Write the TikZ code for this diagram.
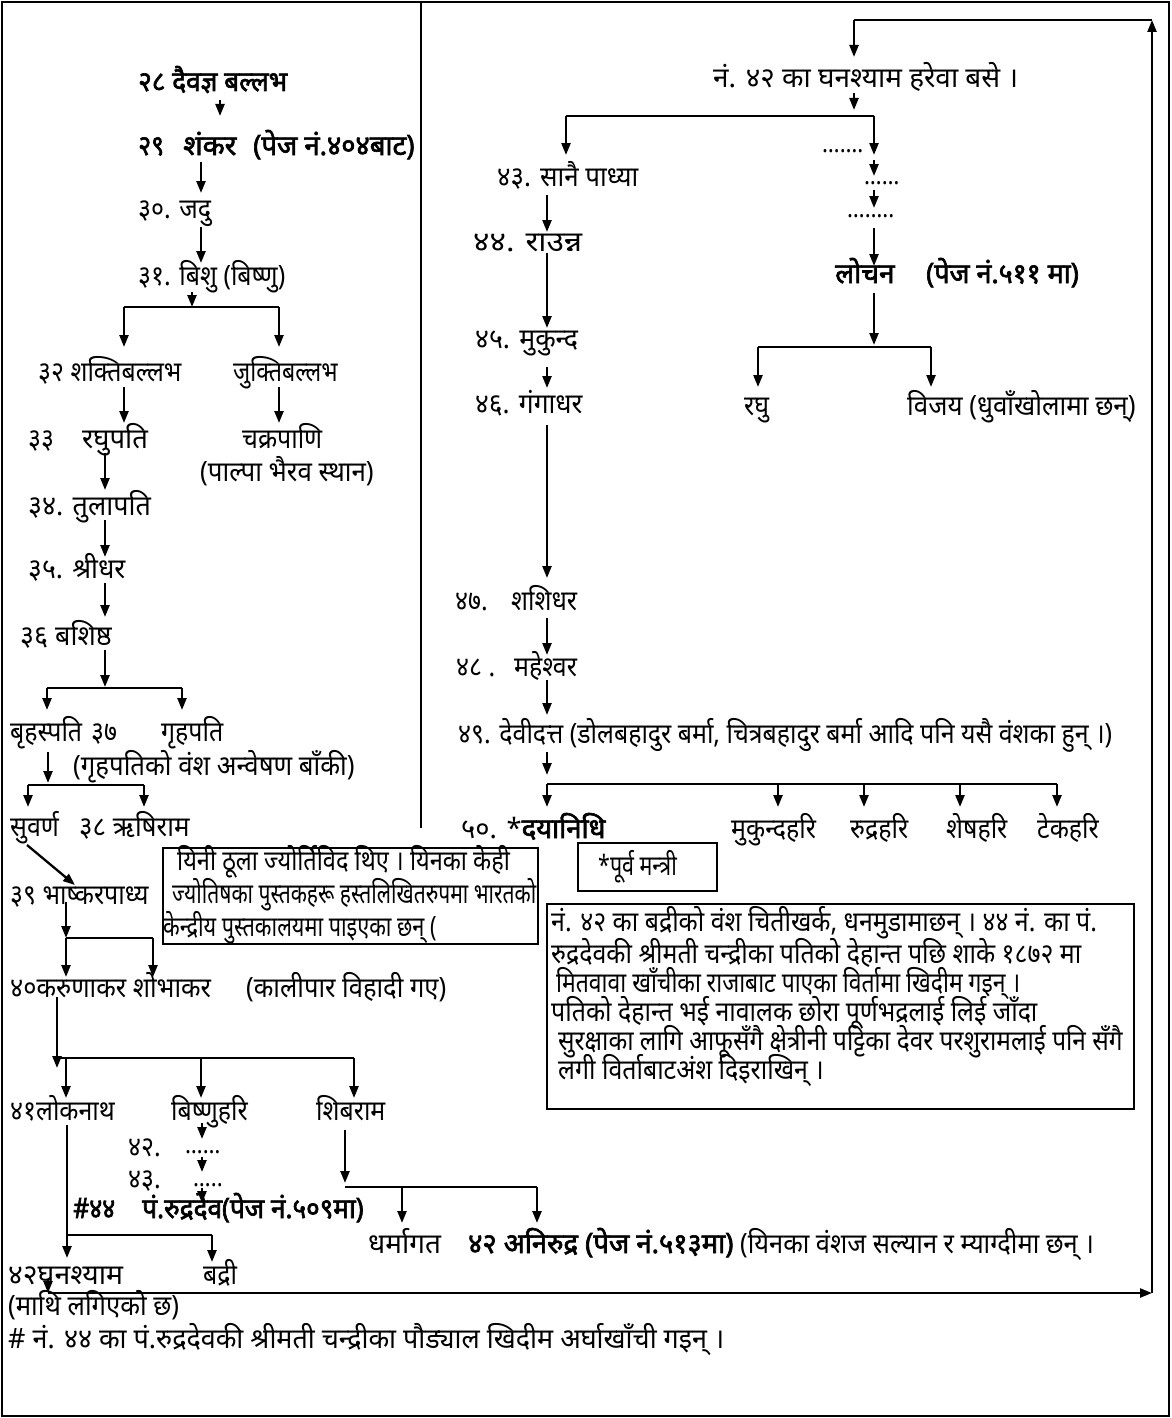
\documentclass[tikz,border=0pt]{standalone}
\usepackage{fontspec}
\setmainfont{Noto Sans}[Script=Devanagari, FakeStretch=0.89, BoldFont={Noto Sans}, BoldFeatures={FakeBold=2.2, FakeStretch=0.89}]
\usetikzlibrary{arrows.meta}
\newcommand\hsq[2]{\scalebox{#1}[1]{#2}}
\tikzset{
  txt/.style={anchor=base west, inner sep=0pt, font=\fontsize{28}{32}\selectfont},
  btxt/.style={anchor=base west, inner sep=0pt, font=\fontsize{28}{32}\selectfont\bfseries},
  dotted text/.style={anchor=base west, inner sep=0pt, font=\fontsize{25}{27}\selectfont},
  arr/.style={line width=2.3pt, -{Triangle[length=12pt,width=9pt]}},
  bar/.style={line width=2.3pt},
  frame/.style={draw, line width=1.6pt},
  boxnode/.style={draw, line width=1.6pt, anchor=north west, inner sep=0pt},
}
\begin{document}
\begin{tikzpicture}[x=1pt,y=-1pt]
\useasboundingbox (0,0) rectangle (1171,1418);
\draw[frame] (2,2) rectangle (1169,1416);
\coordinate (vtop) at (421,2); \coordinate (vbot) at (421,828);
\draw[line width=1.6pt] (vtop) -- (vbot);

% ---------- left column texts
\node[btxt] (t28) at (138,91) {\hsq{1.05}{२८ दैवज्ञ बल्लभ}};
\node[btxt] (t29a) at (138,155) {२९};
\node[btxt] (t29b) at (183,155) {\hsq{1.15}{शंकर}};
\node[btxt] (t29c) at (253,155) {\hsq{1.1}{(पेज नं.४०४बाट)}};
\node[txt] (t30) at (138,218) {३०. जदु};
\node[txt] (t31) at (138,285) {३१. बिशु (बिष्णु)};
\node[txt] (t32) at (38,381) {३२ शक्तिबल्लभ};
\node[txt] (t32b) at (233,381) {\hsq{0.93}{जुक्तिबल्लभ}};
\node[txt] (t33a) at (28,448) {३३};
\node[txt] (t33b) at (82,448) {\hsq{1.1}{रघुपति}};
\node[txt] (t33c) at (242,448) {चक्रपाणि};
\node[txt] (t33d) at (200,481) {\hsq{1.04}{(पाल्पा भैरव स्थान)}};
\node[txt] (t34) at (28,515) {\hsq{1.08}{३४. तुलापति}};
\node[txt] (t35) at (28,578) {\hsq{1.07}{३५. श्रीधर}};
\node[txt] (t36) at (20,645) {\hsq{1.08}{३६ बशिष्ठ}};
\node[txt] (t37a) at (10,741) {बृहस्पति};
\node[txt] (t37b) at (91,741) {३७};
\node[txt] (t37c) at (161,741) {गृहपति};
\node[txt] (t37d) at (73,775) {\hsq{1.035}{(गृहपतिको वंश अन्वेषण बाँकी)}};
\node[txt] (t38a) at (10,836) {सुवर्ण};
\node[txt] (t38b) at (79,836) {\hsq{1.04}{३८ ऋषिराम}};
\node[txt] (t39) at (10,904) {३९ भाष्करपाध्य};
\node[txt] (t40a) at (10,997) {\hsq{1.02}{४०करुणाकर शोभाकर}};
\node[txt] (t40b) at (246,997) {\hsq{1.025}{(कालीपार विहादी गए)}};
\node[txt] (t41a) at (10,1120) {४१लोकनाथ};
\node[txt] (t41b) at (171,1120) {बिष्णुहरि};
\node[txt] (t41c) at (316,1120) {शिबराम};
\node[txt] (t42n) at (128,1156) {४२.};
\node[dotted text] (d1) at (185,1153) {……};
\node[txt] (t43n) at (128,1188) {४३.};
\node[dotted text] (d2) at (193,1186) {…..};
\node[btxt] (t44a) at (73,1218) {\#४४};
\node[btxt] (t44b) at (142,1218) {\hsq{1.05}{पं.रुद्रदेव(पेज नं.५०९मा)}};
\node[txt] (tdh) at (368,1253) {\hsq{1.12}{धर्मागत}};
\node[btxt] (tan) at (468,1253) {\hsq{1.1}{४२ अनिरुद्र (पेज नं.५१३मा)}};
\node[txt] (tanb) at (740,1253) {\hsq{1.02}{(यिनका वंशज सल्यान र म्याग्दीमा छन् ।}};
\node[txt] (t42g) at (8,1284) {\hsq{1.14}{४२घनश्याम}};
\node[txt] (t42b) at (203,1284) {बद्री};
\node[txt] (tmathi) at (8,1315) {\hsq{1.03}{(माथि लगिएको छ)}};
\node[txt] (thash) at (8,1348) {\hsq{1.08}{\# नं. ४४ का पं.रुद्रदेवकी श्रीमती चन्द्रीका पौड्याल खिदीम अर्घाखाँची गइन् ।}};

% ---------- note boxes
\node[boxnode, minimum width=375pt, minimum height=96pt] (byini) at (162,847) {};
\node[txt] (y1) at (177,870) {\hsq{0.945}{यिनी ठूला ज्योर्तिविद थिए । यिनका केही}};
\node[txt] (y2) at (172,903) {\hsq{0.845}{ज्योतिषका पुस्तकहरू हस्तलिखितरुपमा भारतको}};
\node[txt] (y3) at (163,936) {\hsq{0.87}{केन्द्रीय पुस्तकालयमा पाइएका छन् (}};

\node[boxnode, minimum width=139pt, minimum height=48pt] (bpurva) at (577,842) {};
\node[txt] (purva) at (598,875) {\hsq{0.86}{*पूर्व मन्त्री}};

\node[boxnode, minimum width=587pt, minimum height=205pt] (bbadri) at (546,903) {};
\node[txt] (b1) at (551,931) {नं. ४२ का बद्रीको वंश चितीखर्क, धनमुडामाछन् । ४४ नं. का पं.};
\node[txt] (b2) at (551,963) {रुद्रदेवकी श्रीमती चन्द्रीका पतिको देहान्त पछि शाके १८७२ मा};
\node[txt] (b3) at (556,992) {\hsq{0.92}{मितवावा खाँचीका राजाबाट पाएका विर्तामा खिदीम गइन् ।}};
\node[txt] (b4) at (551,1021) {पतिको देहान्त भई नावालक छोरा पूर्णभद्रलाई लिई जाँदा};
\node[txt] (b5) at (558,1050) {\hsq{0.98}{सुरक्षाका लागि आफूसँगै क्षेत्रीनी पट्टिका देवर परशुरामलाई पनि सँगै}};
\node[txt] (b6) at (558,1079) {लगी विर्ताबाटअंश दिइराखिन् ।};

% ---------- right column texts
\node[txt] (r42) at (713,88) {\hsq{1.12}{नं. ४२ का घनश्याम हरेवा बसे ।}};
\node[txt] (r43) at (497,186) {\hsq{1.04}{४३. सानै पाध्या}};
\node[dotted text] (d3) at (822,152) {…….};
\node[dotted text] (d4) at (864,184) {……};
\node[dotted text] (d5) at (847,217) {……..};
\node[btxt] (rl1) at (835,283) {\hsq{1.12}{लोचन}};
\node[btxt] (rl2) at (926,283) {\hsq{1.08}{(पेज नं.५११ मा)}};
\node[txt] (r44) at (473,251) {\hsq{1.27}{४४. राउन्न}};
\node[txt] (r45) at (475,348) {\hsq{1.07}{४५. मुकुन्द}};
\node[txt] (r46) at (475,413) {\hsq{1.06}{४६. गंगाधर}};
\node[txt] (rraghu) at (744,415) {रघु};
\node[txt] (rvijay) at (907,415) {\hsq{1.04}{विजय (धुवाँखोलामा छन्)}};
\node[txt] (r47a) at (455,610) {४७.};
\node[txt] (r47b) at (511,610) {शशिधर};
\node[txt] (r48a) at (456,676) {४८ .};
\node[txt] (r48b) at (514,676) {महेश्वर};
\node[txt] (r49) at (458,743) {४९. देवीदत्त (डोलबहादुर बर्मा, चित्रबहादुर बर्मा आदि पनि यसै वंशका हुन् ।)};
\node[txt] (r50) at (461,838) {\hsq{1.1}{५०. *\textbf{दयानिधि}}};
\node[txt] (r50b) at (731,838) {मुकुन्दहरि};
\node[txt] (r50c) at (850,838) {रुद्रहरि};
\node[txt] (r50d) at (946,838) {शेषहरि};
\node[txt] (r50e) at (1037,838) {टेकहरि};

% ---------- connector coordinates
\foreach \n/\x/\y in {
 L1s/220/100, L1e/220/116, L2s/201/162, L2e/201/193, L3s/201/227, L3e/201/263,
 L4s/192/292, L4e/192/307, B1s/124/307, B1e/279/307,
 L5e/124/347, L6e/279/347, L7s/124/387, L7e/124/423, L8s/279/387, L8e/279/423,
 L9s/105/453, L9e/105/490, L10s/105/520, L10e/105/557, L11s/105/583, L11e/105/617,
 L12s/105/650, L12e/105/687, B2s/47/688, B2e/182/688, L13e/47/710, L14e/182/710,
 L15s/48/752, L15e/48/783, B3s/28/785, B3e/144/785, L16e/28/807, L17e/144/807,
 L18s/27/845, L18e/75/885, L19s/66/902, L19e/66/938, B4s/66/938, B4e/153/938,
 L20e/66/977, L21e/153/977, L22s/57/997, L22e/57/1068, B5s/57/1058, B5e/354/1058,
 J1/66/1058, J2/201/1058, L23e/66/1098, L24e/201/1098, L25e/354/1098,
 L26s/202/1123, L26e/202/1139, L27s/202/1157, L27e/202/1172, L28s/202/1188, L28e/202/1203,
 L29s/67/1125, L29e/67/1258, B6s/67/1235, B6e/212/1235, L30e/212/1262,
 L31s/48/1280, L31e/48/1293, L32e/1152/1293, L33e/1152/20, B8e/854/20, L34e/854/57,
 L35s/345/1130, L35e/345/1183, B9s/345/1187, B9e/537/1187, J3/402/1187,
 L36e/402/1223, L37e/537/1223,
 R1s/854/93, R1e/854/110, B10s/566/116, B10e/874/116, R2e/566/155, R3e/874/155,
 R4s/874/160, R4e/874/176, R5s/874/190, R5e/874/208, R6s/874/228, R6e/874/266,
 R7s/547/195, R7e/547/232, R8s/547/253, R8e/547/328, R9s/547/367, R9e/547/388,
 R10s/547/425, R10e/547/578, R11s/874/293, R11e/874/345, B11s/758/347, B11e/931/347,
 R12e/758/387, R13e/931/387, R14s/547/618, R14e/547/655, R15s/547/680, R15e/547/715,
 R16s/547/752, R16e/547/775, B12s/547/784, B12e/1057/784,
 K1/778/784, K2/864/784, K3/960/784,
 R17e/547/807, R18e/778/807, R19e/864/807, R20e/960/807, R21e/1057/807}
 {\coordinate (\n) at (\x,\y);}

% ---------- connectors, left column
\draw[arr] (L1s) -- (L1e);
\draw[arr] (L2s) -- (L2e);
\draw[arr] (L3s) -- (L3e);
\draw[arr] (L4s) -- (L4e);
\draw[bar] (B1s) -- (B1e);
\draw[arr] (B1s) -- (L5e);
\draw[arr] (B1e) -- (L6e);
\draw[arr] (L7s) -- (L7e);
\draw[arr] (L8s) -- (L8e);
\draw[arr] (L9s) -- (L9e);
\draw[arr] (L10s) -- (L10e);
\draw[arr] (L11s) -- (L11e);
\draw[arr] (L12s) -- (L12e);
\draw[bar] (B2s) -- (B2e);
\draw[arr] (B2s) -- (L13e);
\draw[arr] (B2e) -- (L14e);
\draw[arr] (L15s) -- (L15e);
\draw[bar] (B3s) -- (B3e);
\draw[arr] (B3s) -- (L16e);
\draw[arr] (B3e) -- (L17e);
\draw[arr] (L18s) -- (L18e);
\draw[arr] (L19s) -- (L19e);
\draw[bar] (B4s) -- (B4e);
\draw[arr] (B4s) -- (L20e);
\draw[arr] (B4e) -- (L21e);
\draw[arr] (L22s) -- (L22e);
\draw[bar] (B5s) -- (B5e);
\draw[arr] (J1) -- (L23e);
\draw[arr] (J2) -- (L24e);
\draw[arr] (B5e) -- (L25e);
\draw[arr] (L26s) -- (L26e);
\draw[arr] (L27s) -- (L27e);
\draw[arr] (L28s) -- (L28e);
\draw[arr] (L29s) -- (L29e);
\draw[bar] (B6s) -- (B6e);
\draw[arr] (B6e) -- (L30e);
\draw[arr] (L31s) -- (L31e);
\draw[arr] (L31e) -- (L32e);
\draw[arr] (L32e) -- (L33e);
\draw[bar] (L33e) -- (B8e);
\draw[arr] (B8e) -- (L34e);
\draw[arr] (L35s) -- (L35e);
\draw[bar] (B9s) -- (B9e);
\draw[arr] (J3) -- (L36e);
\draw[arr] (B9e) -- (L37e);

% ---------- connectors, right column
\draw[arr] (R1s) -- (R1e);
\draw[bar] (B10s) -- (B10e);
\draw[arr] (B10s) -- (R2e);
\draw[arr] (B10e) -- (R3e);
\draw[arr] (R4s) -- (R4e);
\draw[arr] (R5s) -- (R5e);
\draw[arr] (R6s) -- (R6e);
\draw[arr] (R7s) -- (R7e);
\draw[arr] (R8s) -- (R8e);
\draw[arr] (R9s) -- (R9e);
\draw[arr] (R10s) -- (R10e);
\draw[arr] (R11s) -- (R11e);
\draw[bar] (B11s) -- (B11e);
\draw[arr] (B11s) -- (R12e);
\draw[arr] (B11e) -- (R13e);
\draw[arr] (R14s) -- (R14e);
\draw[arr] (R15s) -- (R15e);
\draw[arr] (R16s) -- (R16e);
\draw[bar] (B12s) -- (B12e);
\draw[arr] (B12s) -- (R17e);
\draw[arr] (K1) -- (R18e);
\draw[arr] (K2) -- (R19e);
\draw[arr] (K3) -- (R20e);
\draw[arr] (B12e) -- (R21e);
\end{tikzpicture}
\end{document}
